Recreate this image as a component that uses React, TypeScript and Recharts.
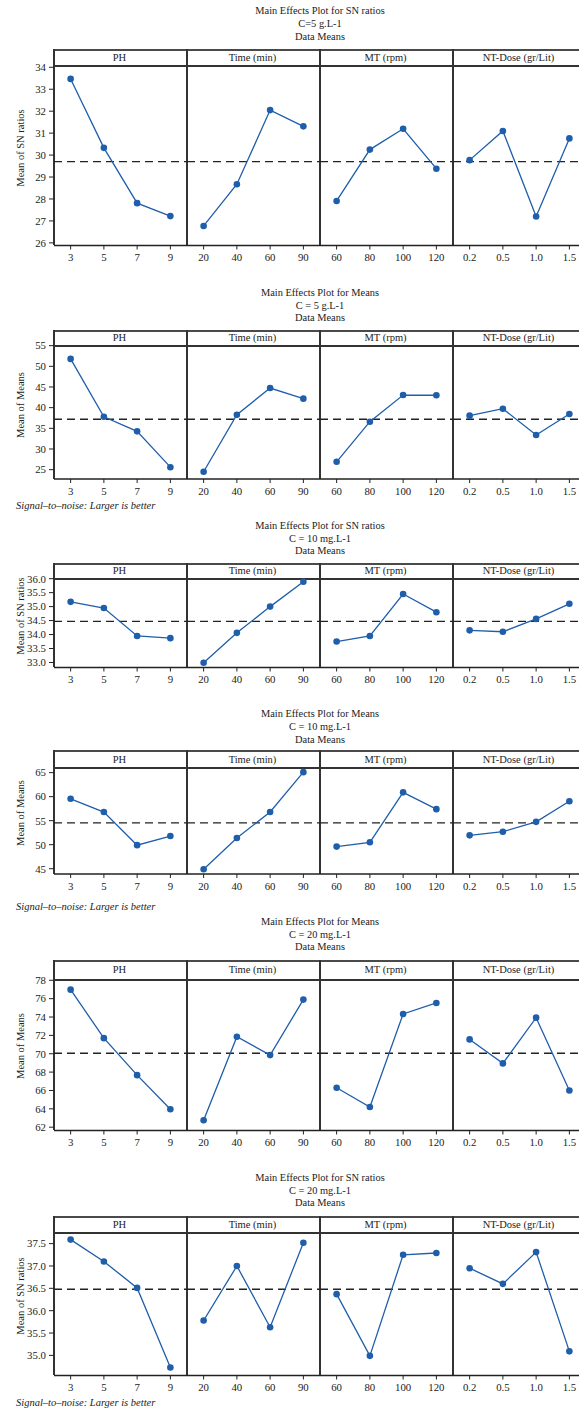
import { Line, LineChart, ReferenceLine, XAxis, YAxis } from "recharts";

const factorNames = ["PH", "Time (min)", "MT (rpm)", "NT-Dose (gr/Lit)"];
const phLevels = ["3", "5", "7", "9"];
const timeLevels = ["20", "40", "60", "90"];
const mtLevels = ["60", "80", "100", "120"];
const doseLevels = ["0.2", "0.5", "1.0", "1.5"];
const factorLevels = [phLevels, timeLevels, mtLevels, doseLevels];

// one row per factor: PH, Time, MT, NT-Dose
const snC5 = [
  [33.47, 30.33, 27.81, 27.22],
  [26.77, 28.67, 32.05, 31.31],
  [27.91, 30.25, 31.2, 29.38],
  [29.77, 31.1, 27.2, 30.76],
];
const meansC5 = [
  [51.8, 37.8, 34.27, 25.6],
  [24.5, 38.3, 44.75, 42.18],
  [26.9, 36.6, 43.05, 43.0],
  [38.07, 39.75, 33.4, 38.45],
];
const snC10 = [
  [35.17, 34.95, 33.95, 33.87],
  [32.99, 34.06, 35.0, 35.89],
  [33.75, 33.95, 35.45, 34.8],
  [34.15, 34.1, 34.56, 35.1],
];
const meansC10 = [
  [59.55, 56.8, 49.9, 51.8],
  [44.9, 51.4, 56.8, 65.1],
  [49.6, 50.5, 60.9, 57.4],
  [51.95, 52.7, 54.76, 59.05],
];
const meansC20 = [
  [76.98, 71.7, 67.67, 63.96],
  [62.75, 71.85, 69.85, 75.9],
  [66.3, 64.2, 74.33, 75.53],
  [71.56, 68.95, 73.93, 66.0],
];
const snC20 = [
  [37.59, 37.1, 36.51, 34.73],
  [35.78, 37.0, 35.63, 37.52],
  [36.37, 34.99, 37.25, 37.29],
  [36.95, 36.6, 37.31, 35.09],
];

const snC5Ticks = [26, 27, 28, 29, 30, 31, 32, 33, 34];
const meansC5Ticks = [25, 30, 35, 40, 45, 50, 55];
const snC10Ticks = [33, 33.5, 34, 34.5, 35, 35.5, 36];
const meansC10Ticks = [45, 50, 55, 60, 65];
const meansC20Ticks = [62, 64, 66, 68, 70, 72, 74, 76, 78];
const snC20Ticks = [35, 35.5, 36, 36.5, 37, 37.5];

const SERIF = "'Liberation Serif', 'DejaVu Serif', serif";
const BLUE = "#1f5eab";
const INK = "#222";
const FRAME_LEFT = 54;
const COL_W = 133;
const PAD = COL_W / 8;
const TOP_ROOM = 10;
const NOTE = "Signal\u2013to\u2013noise: Larger is better";

type Panel = {
  title: string;
  sub: string;
  yLabel: string;
  values: number[][];
  mean: number;
  ticks: number[];
  domain: [number, number];
  digits: number;
  titleY: number;
  frameTop: number;
  stripBottom: number;
  axisBottom: number;
  noteY?: number;
};

const panels: Panel[] = [
  {
    title: "Main Effects Plot for SN ratios", sub: "C=5 g.L-1", yLabel: "Mean of SN ratios",
    values: snC5, mean: 29.7, ticks: snC5Ticks, domain: [25.88, 34.15], digits: 0,
    titleY: 11, frameTop: 50, stripBottom: 63.5, axisBottom: 245,
  },
  {
    title: "Main Effects Plot for Means", sub: "C = 5 g.L-1", yLabel: "Mean of Means",
    values: meansC5, mean: 37.18, ticks: meansC5Ticks, domain: [22.74, 55.4], digits: 0,
    titleY: 292.7, frameTop: 331, stripBottom: 343.5, axisBottom: 478.5, noteY: 506,
  },
  {
    title: "Main Effects Plot for SN ratios", sub: "C = 10 mg.L-1", yLabel: "Mean of SN ratios",
    values: snC10, mean: 34.47, ticks: snC10Ticks, domain: [32.82, 36.06], digits: 1,
    titleY: 525.7, frameTop: 564, stripBottom: 576.5, axisBottom: 667,
  },
  {
    title: "Main Effects Plot for Means", sub: "C = 10 mg.L-1", yLabel: "Mean of Means",
    values: meansC10, mean: 54.55, ticks: meansC10Ticks, domain: [43.9, 66.38], digits: 0,
    titleY: 714, frameTop: 751, stripBottom: 766, axisBottom: 874, noteY: 907,
  },
  {
    title: "Main Effects Plot for Means", sub: "C = 20 mg.L-1", yLabel: "Mean of Means",
    values: meansC20, mean: 70.05, ticks: meansC20Ticks, domain: [61.64, 78.25], digits: 0,
    titleY: 921.7, frameTop: 961, stripBottom: 977.5, axisBottom: 1130,
  },
  {
    title: "Main Effects Plot for SN ratios", sub: "C = 20 mg.L-1", yLabel: "Mean of SN ratios",
    values: snC20, mean: 36.48, ticks: snC20Ticks, domain: [34.55, 37.76], digits: 1,
    titleY: 1177.7, frameTop: 1216.7, stripBottom: 1231.5, axisBottom: 1375, noteY: 1402.7,
  },
];

const textBase = { position: "absolute" as const, fontFamily: SERIF, color: INK, fontSize: 10.5, lineHeight: "12px", whiteSpace: "nowrap" as const };

function Facet({ panel, col }: { panel: Panel; col: number }) {
  const first = col === 0;
  const left = first ? 0 : FRAME_LEFT + col * COL_W;
  const width = first ? FRAME_LEFT + COL_W : COL_W;
  const plotH = panel.axisBottom - panel.stripBottom;
  const data = factorLevels[col].map((level, i) => ({ level, value: panel.values[col][i] }));

  return (
    <div style={{ position: "absolute", left, top: panel.stripBottom - TOP_ROOM }}>
      <LineChart
        width={width}
        height={plotH + 24 + TOP_ROOM}
        data={data}
        margin={{ top: TOP_ROOM, right: 0, bottom: 0, left: 0 }}
      >
        <XAxis
          dataKey="level"
          type="category"
          height={24}
          interval={0}
          padding={{ left: PAD, right: PAD }}
          axisLine={{ stroke: INK, strokeWidth: 1.6 }}
          tickLine={{ stroke: INK }}
          tickSize={4}
          tickMargin={4}
          tick={{ fill: INK, fontSize: 10.8, fontFamily: SERIF }}
        />
        <YAxis
          type="number"
          domain={panel.domain}
          ticks={panel.ticks}
          interval={0}
          allowDataOverflow
          hide={!first}
          width={FRAME_LEFT}
          axisLine={false}
          tickLine={{ stroke: INK }}
          tickSize={5}
          tickMargin={3}
          tick={{ fill: INK, fontSize: 10.8, fontFamily: SERIF }}
          tickFormatter={(v) => Number(v).toFixed(panel.digits)}
        />
        <ReferenceLine y={panel.mean} stroke={INK} strokeWidth={1.4} strokeDasharray="8 5" />
        <Line
          type="linear"
          dataKey="value"
          stroke={BLUE}
          strokeWidth={1.3}
          dot={{ r: 3.3, fill: BLUE, stroke: BLUE, strokeWidth: 0 }}
          activeDot={false}
          isAnimationActive={false}
        />
      </LineChart>
    </div>
  );
}

function PanelBlock({ panel }: { panel: Panel }) {
  const frameMid = (panel.frameTop + panel.axisBottom) / 2;
  const stripH = panel.stripBottom - panel.frameTop;
  const titles = [panel.title, panel.sub, "Data Means"];
  return (
    <>
      {titles.map((t, i) => (
        <div
          key={t + i}
          style={{ ...textBase, fontSize: 10.4, left: FRAME_LEFT, width: COL_W * 4, textAlign: "center", top: panel.titleY + i * 12.8 - 6 }}
        >
          {t}
        </div>
      ))}
      {factorNames.map((name, col) => (
        <div
          key={name}
          style={{
            ...textBase,
            left: FRAME_LEFT + col * COL_W - 1,
            top: panel.frameTop - 1,
            width: COL_W,
            height: stripH,
            lineHeight: `${stripH}px`,
            textAlign: "center",
            borderTop: "2px solid #4a4a4a",
            borderBottom: "2px solid #333",
          }}
        >
          {name}
        </div>
      ))}
      {factorNames.map((name, col) => (
        <div
          key={"div" + name}
          style={{
            position: "absolute",
            left: FRAME_LEFT + col * COL_W - 1,
            top: panel.frameTop - 1,
            width: 2,
            height: panel.axisBottom - panel.frameTop + 1,
            background: "#333",
          }}
        />
      ))}
      <div
        style={{ ...textBase, left: 21 - 100, width: 200, textAlign: "center", top: frameMid - 6, transform: "rotate(-90deg)" }}
      >
        {panel.yLabel}
      </div>
      {factorNames.map((name, col) => (
        <Facet key={name} panel={panel} col={col} />
      ))}
      {panel.noteY !== undefined && (
        <div style={{ ...textBase, fontStyle: "italic", left: 16, top: panel.noteY - 6 }}>{NOTE}</div>
      )}
    </>
  );
}

export default function App() {
  return (
    <div style={{ position: "absolute", left: 0, top: 0, width: 579, height: 1412, overflow: "hidden", background: "#fff" }}>
      {panels.map((p, i) => (
        <PanelBlock key={i} panel={p} />
      ))}
    </div>
  );
}
